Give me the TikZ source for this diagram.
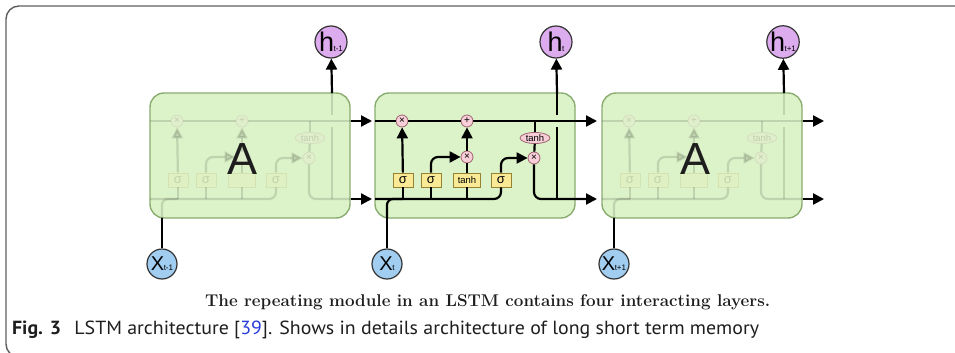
\documentclass[tikz,border=0pt]{standalone}
\usepackage{fontspec}
\usepackage{graphicx}
\usetikzlibrary{arrows.meta,shapes.geometric}

\newfontfamily\labfont{Liberation Sans}
\newfontfamily\capfont{PT Sans}

\definecolor{cellfill}{RGB}{220,243,202}
\definecolor{celldraw}{RGB}{138,172,112}
\definecolor{hfill}{RGB}{221,172,238}
\definecolor{xfill}{RGB}{160,205,240}
\definecolor{gatefill}{RGB}{248,206,216}
\definecolor{gatedraw}{RGB}{160,100,112}
\definecolor{sigfill}{RGB}{250,234,150}
\definecolor{sigdraw}{RGB}{150,130,50}
\definecolor{framegray}{RGB}{95,95,95}
\definecolor{citeblue}{RGB}{40,60,220}
\definecolor{captext}{RGB}{30,30,30}

\tikzset{
  arr/.style={-{Triangle[length=11pt,width=11pt]}},
  cellbox/.style={draw=celldraw, fill=cellfill, line width=1.4pt,
    rounded corners=14pt, minimum width=200pt, minimum height=125pt, inner sep=0},
  gate/.style={circle, draw=gatedraw, fill=gatefill, line width=0.8pt,
    minimum size=12pt, inner sep=0, font=\labfont\fontsize{10}{10}\selectfont},
  tanhgate/.style={ellipse, draw=gatedraw, fill=gatefill, line width=0.8pt,
    minimum width=30pt, minimum height=11pt, inner sep=0,
    font=\labfont\fontsize{9.5}{9.5}\selectfont},
  layer/.style={rectangle, draw=sigdraw, fill=sigfill, line width=0.8pt,
    minimum width=20pt, minimum height=14pt, inner sep=0,
    font=\labfont\fontsize{13}{13}\selectfont},
  hnode/.style={circle, draw=black!80, fill=hfill, line width=1.2pt,
    minimum size=32pt, inner sep=0, font=\labfont},
  xnode/.style={circle, draw=black!80, fill=xfill, line width=1.2pt,
    minimum size=30pt, inner sep=0, font=\labfont},
  bigA/.style={font=\labfont\fontsize{45}{45}\selectfont, text=captext, inner sep=0},
  faded/.style={opacity=0.13}
}

\newcommand{\hlab}[1]{{\fontsize{27}{27}\selectfont h}\kern-0.5pt{\fontsize{8}{8}\selectfont #1}}
\newcommand{\xlab}[1]{{\fontsize{20}{20}\selectfont X}\kern-0.5pt{\fontsize{8}{8}\selectfont #1}}

% inside of one repeating module
\newcommand{\lstmcore}[3]{%
  \node[gate] (#1fx) at (402,121) {×};
  \node[gate] (#1add) at (467,121) {+};
  \node[gate] (#1ix) at (467,157) {#3};
  \node[gate] (#1ox) at (534,158) {×};
  \node[tanhgate] (#1th) at (535,138) {tanh};
  \node[layer] (#1s1) at (403,180) {σ};
  \node[layer] (#1s2) at (431,180) {σ};
  \node[layer, minimum width=27pt, font=\labfont\fontsize{9.5}{9.5}\selectfont] (#1tb) at (467,180) {#2};
  \node[layer] (#1s4) at (501,180) {σ};
  \coordinate (#1cin) at (375,121);
  \coordinate (#1cout) at (597,121);
  \coordinate (#1hin) at (375,199);
  \coordinate (#1hout) at (597,199);
  \coordinate (#1xin) at (387,218);
  \coordinate (#1hup) at (557,93);
  % cell state
  \draw (#1cin) -- (#1fx);
  \draw (#1fx) -- (#1add);
  \draw[arr] (#1add) -- (#1cout);
  % hidden state and input
  \draw[rounded corners=7pt] (#1hin) -| (#1s4);
  \draw[rounded corners=6pt] (#1xin) |- (#1s1 |- #1hin);
  \draw (#1s1) -- (#1s1 |- #1hin);
  \draw (#1s2) -- (#1s2 |- #1hin);
  \draw (#1tb) -- (#1tb |- #1hin);
  % gates
  \draw[arr] (#1s1) -- (#1fx);
  \draw[arr, rounded corners=7pt] (#1s2) |- (#1ix);
  \draw (#1tb) -- (#1ix);
  \draw[arr] (#1ix) -- (#1add);
  \draw[arr, rounded corners=7pt] (#1s4) |- (#1ox);
  \draw (#1th |- #1cin) -- (#1th);
  \draw (#1th) -- (#1ox);
  \draw[arr, rounded corners=7pt] (#1ox) |- (#1hout);
  \draw (#1hup |- #1hin) -- ([yshift=-6pt]#1hup |- #1cin);
  \draw ([yshift=6pt]#1hup |- #1cin) -- (#1hup);
}

\begin{document}
\begin{tikzpicture}[x=1pt, y=-1pt, line width=2.2pt]
  \useasboundingbox (0,0) rectangle (955,353);
  % frame
  \draw[framegray, line width=1.4pt, rounded corners=13pt]
    (960,6) -- (6,6) -- (6,357) -- (60,357);

  % modules
  \node[cellbox] (c1) at (250,155.5) {};
  \node[cellbox] (c2) at (475,155.5) {};
  \node[cellbox] (c3) at (702,155.5) {};

  \begin{scope}[xshift=-225pt, faded]
    \lstmcore{a}{}{}
  \end{scope}
  \lstmcore{b}{tanh}{×}
  \begin{scope}[xshift=227pt, faded]
    \lstmcore{c}{}{}
  \end{scope}

  \node[bigA] (A1) at (243,159) {A};
  \node[bigA] (A3) at (695,159) {A};

  % outputs and inputs
  \node[hnode] (h1) at (331,42) {\hlab{t-1}};
  \node[hnode] (h2) at (556,42) {\hlab{t}};
  \node[hnode] (h3) at (783,42) {\hlab{t+1}};
  \node[xnode] (x1) at (162,264) {\xlab{t-1}};
  \node[xnode] (x2) at (387,264) {\xlab{t}};
  \node[xnode] (x3) at (614,264) {\xlab{t+1}};

  \draw[arr] (ahup) -- (h1);
  \draw[arr] (bhup) -- (h2);
  \draw[arr] (chup) -- (h3);
  \draw (x1) -- (axin);
  \draw (x2) -- (bxin);
  \draw (x3) -- (cxin);

  \draw[arr] (c1.east |- acout) -- (acout);
  \draw[arr] (c1.east |- ahout) -- (ahout);
  \draw[arr] (c3.east |- ccout) -- (ccout);
  \draw[arr] (c3.east |- chout) -- (chout);

  % captions
  \node[anchor=base west, inner sep=0, text=captext] (sub) at (204,306)
    {\resizebox{565pt}{\height}{\fontsize{17}{17}\selectfont\bfseries
      The repeating module in an LSTM contains four interacting layers.}};
  \node[anchor=base west, inner sep=0, text=captext] (cap) at (11,334)
    {\resizebox{747pt}{\height}{\capfont\fontsize{19}{19}\selectfont
      \textbf{Fig. 3}\hspace{0.4em} LSTM architecture [\textcolor{citeblue}{39}]. Shows in details architecture of long short term memory}};
\end{tikzpicture}
\end{document}
